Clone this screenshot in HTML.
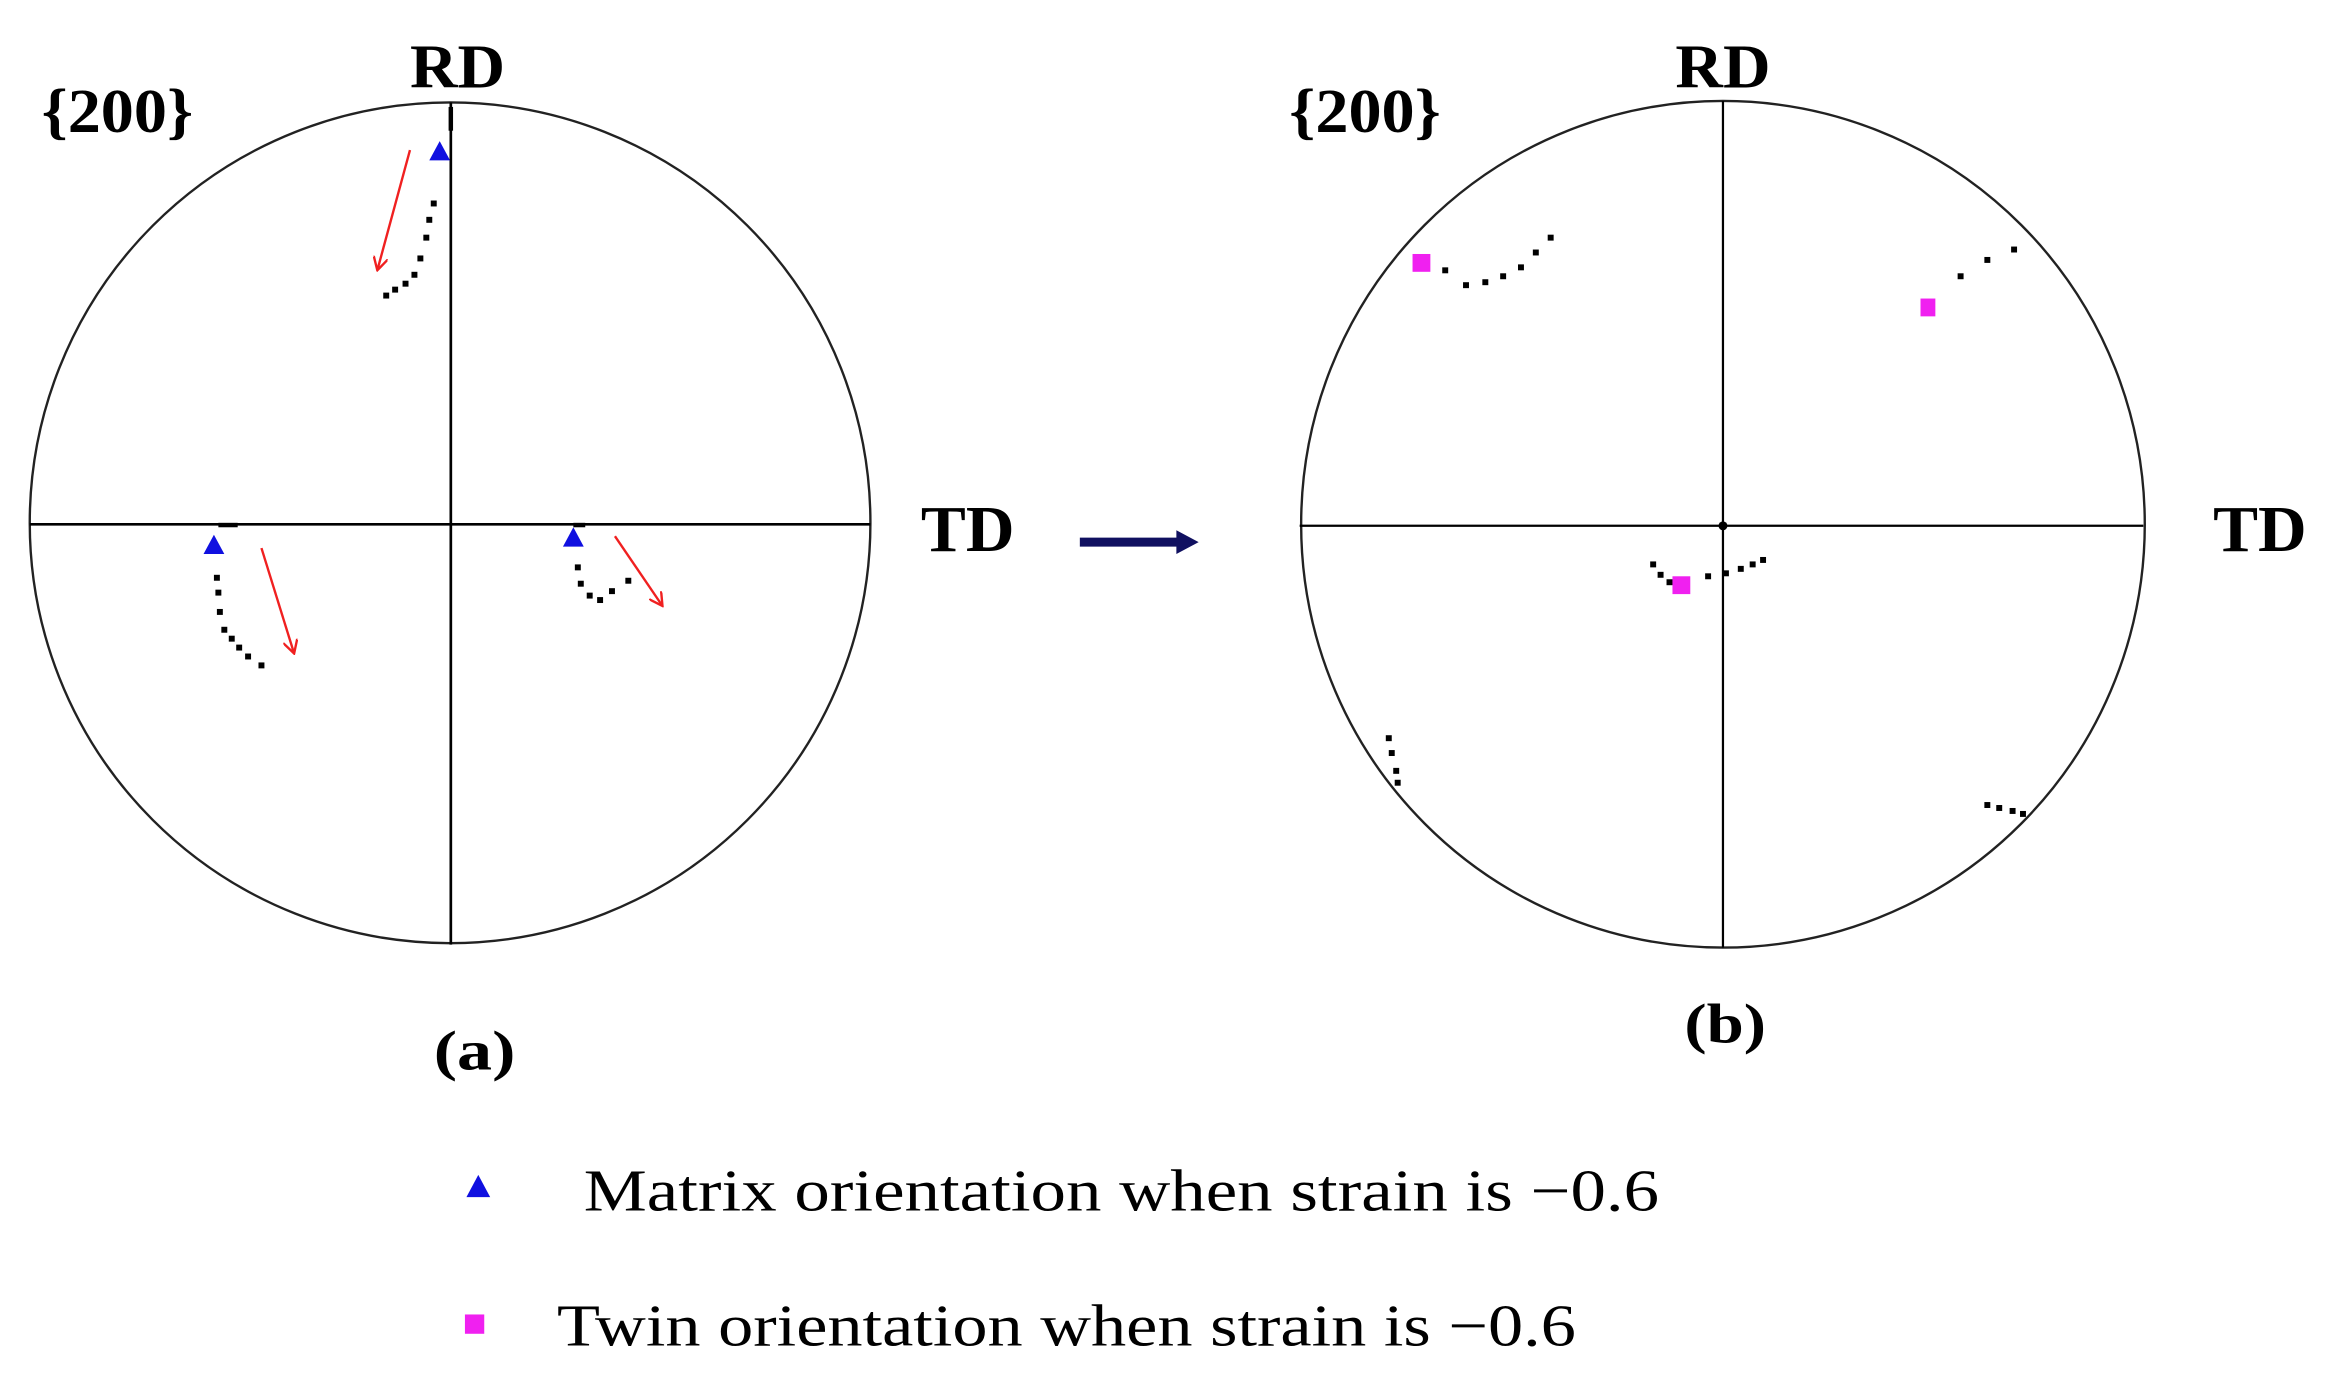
<!DOCTYPE html>
<html><head><meta charset="utf-8"><style>
html,body{margin:0;padding:0;background:#fff;}
svg{display:block;}
text{font-family:"Liberation Serif",serif;}
</style></head><body>
<svg width="2329" height="1392" viewBox="0 0 1568 937.2" xmlns="http://www.w3.org/2000/svg">
<defs>
<marker id="ra" markerWidth="10" markerHeight="10" refX="9" refY="5" orient="auto" markerUnits="userSpaceOnUse">
<path d="M0,0 L9,5 L0,10" fill="none" stroke="#f02020" stroke-width="1.6"/>
</marker>
</defs>
<rect width="1568" height="937.2" fill="#fff"/>
<!-- Left pole figure -->
<circle cx="303" cy="352" r="283" fill="none" stroke="#222" stroke-width="1.6"/>
<line x1="20" y1="353" x2="586" y2="353" stroke="#000" stroke-width="1.8"/>
<line x1="303.5" y1="69" x2="303.5" y2="636" stroke="#000" stroke-width="1.8"/>
<text x="28" y="89" font-size="42" font-weight="bold" textLength="102" lengthAdjust="spacingAndGlyphs">{200}</text>
<text x="276" y="59" font-size="42" font-weight="bold" textLength="64" lengthAdjust="spacingAndGlyphs">RD</text>
<text x="620" y="371" font-size="44" font-weight="bold" textLength="63" lengthAdjust="spacingAndGlyphs">TD</text>
<text x="292" y="720" font-size="38" font-weight="bold" textLength="55" lengthAdjust="spacingAndGlyphs">(a)</text>
<g fill="#000">
<rect x="302" y="72" width="3" height="16"/>
<rect x="290" y="135" width="4" height="4"/><rect x="287" y="146" width="4" height="4"/>
<rect x="285" y="158" width="4" height="4"/><rect x="281" y="172" width="4" height="4"/>
<rect x="277" y="183" width="4" height="4"/><rect x="271" y="189" width="4" height="4"/>
<rect x="264" y="193" width="4" height="4"/><rect x="258" y="197" width="4" height="4"/>
<rect x="147" y="352" width="13" height="3"/>
<rect x="144" y="387" width="4" height="4"/><rect x="145" y="397" width="4" height="4"/>
<rect x="146" y="410" width="4" height="4"/><rect x="149" y="422" width="4" height="4"/>
<rect x="154" y="428" width="4" height="4"/><rect x="159" y="434" width="4" height="4"/>
<rect x="165" y="440" width="4" height="4"/><rect x="174" y="446" width="4" height="4"/>
<rect x="386" y="352" width="8" height="3"/>
<rect x="387" y="380" width="4" height="4"/><rect x="389" y="391" width="4" height="4"/>
<rect x="395" y="399" width="4" height="4"/><rect x="402" y="402" width="4" height="4"/>
<rect x="410" y="396" width="4" height="4"/><rect x="421" y="389" width="4" height="4"/>
</g>
<g fill="#1010e0">
<polygon points="296,95 289,108 303,108"/>
<polygon points="144,360 137,373 151,373"/>
<polygon points="386,355 379,368 393,368"/>
</g>
<g stroke="#f02020" stroke-width="1.6" fill="none" marker-end="url(#ra)">
<line x1="276" y1="101" x2="254" y2="182"/>
<line x1="176" y1="369" x2="198" y2="440"/>
<line x1="414" y1="361" x2="446" y2="408"/>
</g>
<!-- Arrow between -->
<line x1="727" y1="365" x2="796" y2="365" stroke="#101060" stroke-width="6"/>
<polygon points="792,357 807,365 792,373" fill="#101060"/>
<!-- Right pole figure -->
<ellipse cx="1160" cy="353" rx="284" ry="285" fill="none" stroke="#222" stroke-width="1.6"/>
<line x1="875" y1="354" x2="1443" y2="354" stroke="#000" stroke-width="1.5"/>
<line x1="1160" y1="68" x2="1160" y2="638" stroke="#000" stroke-width="1.5"/>
<circle cx="1160" cy="354" r="3" fill="#000"/>
<text x="868" y="89" font-size="42" font-weight="bold" textLength="102" lengthAdjust="spacingAndGlyphs">{200}</text>
<text x="1128" y="59" font-size="42" font-weight="bold" textLength="64" lengthAdjust="spacingAndGlyphs">RD</text>
<text x="1490" y="371" font-size="44" font-weight="bold" textLength="63" lengthAdjust="spacingAndGlyphs">TD</text>
<text x="1134" y="702" font-size="38" font-weight="bold" textLength="55" lengthAdjust="spacingAndGlyphs">(b)</text>
<g fill="#000">
<rect x="971" y="180" width="4" height="4"/><rect x="985" y="190" width="4" height="4"/>
<rect x="998" y="188" width="4" height="4"/><rect x="1010" y="184" width="4" height="4"/>
<rect x="1022" y="178" width="4" height="4"/><rect x="1032" y="168" width="4" height="4"/>
<rect x="1042" y="158" width="4" height="4"/>
<rect x="1318" y="184" width="4" height="4"/><rect x="1336" y="173" width="4" height="4"/>
<rect x="1354" y="166" width="4" height="4"/>
<rect x="1111" y="378" width="4" height="4"/><rect x="1116" y="385" width="4" height="4"/>
<rect x="1122" y="390" width="4" height="4"/>
<rect x="1148" y="386" width="4" height="4"/><rect x="1160" y="384" width="4" height="4"/>
<rect x="1170" y="381" width="4" height="4"/><rect x="1178" y="378" width="4" height="4"/>
<rect x="1185" y="375" width="4" height="4"/>
<rect x="933" y="495" width="4" height="4"/><rect x="935" y="505" width="4" height="4"/>
<rect x="938" y="517" width="4" height="4"/><rect x="939" y="525" width="4" height="4"/>
<rect x="1336" y="540" width="4" height="4"/><rect x="1344" y="542" width="4" height="4"/>
<rect x="1353" y="544" width="4" height="4"/><rect x="1360" y="546" width="4" height="4"/>
</g>
<g fill="#f020f0">
<rect x="951" y="171" width="12" height="12"/>
<rect x="1293" y="201" width="10" height="12"/>
<rect x="1126" y="388" width="12" height="12"/>
</g>
<!-- Legend -->
<polygon points="322,791 314,806 330,806" fill="#1010e0"/>
<text x="393" y="815" font-size="40" textLength="724" lengthAdjust="spacingAndGlyphs">Matrix orientation when strain is −0.6</text>
<rect x="313" y="885" width="13" height="13" fill="#f020f0"/>
<text x="375" y="906" font-size="40" textLength="686" lengthAdjust="spacingAndGlyphs">Twin orientation when strain is −0.6</text>
</svg>
</body></html>
